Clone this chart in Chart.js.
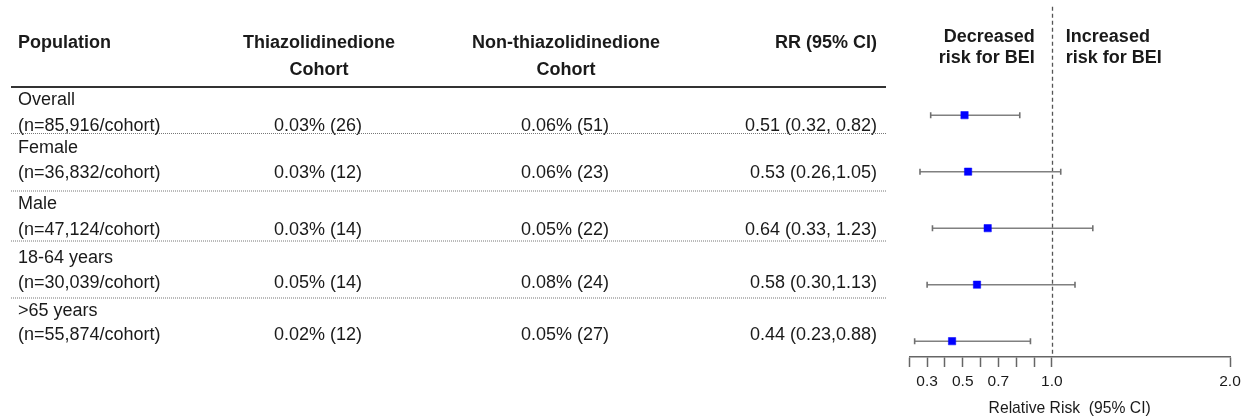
<!DOCTYPE html>
<html>
<head>
<meta charset="utf-8">
<script src="https://cdn.jsdelivr.net/npm/chart.js@4.4.1/dist/chart.umd.min.js"></script>
<style>
  html, body { margin: 0; padding: 0; background: #ffffff; }
  #wrap { width: 1250px; height: 417px; position: relative; }
</style>
</head>
<body>
<div id="wrap"><canvas id="c" width="1250" height="417"></canvas></div>
<script>
// ---------------- data ----------------
const populations = ['Overall', 'Female', 'Male', '18-64 years', '>65 years'];
const cohortSizes = ['(n=85,916/cohort)', '(n=36,832/cohort)', '(n=47,124/cohort)', '(n=30,039/cohort)', '(n=55,874/cohort)'];
const tzdRates = ['0.03% (26)', '0.03% (12)', '0.03% (14)', '0.05% (14)', '0.02% (12)'];
const nonTzdRates = ['0.06% (51)', '0.06% (23)', '0.05% (22)', '0.08% (24)', '0.05% (27)'];
const rrLabels = ['0.51 (0.32, 0.82)', '0.53 (0.26,1.05)', '0.64 (0.33, 1.23)', '0.58 (0.30,1.13)', '0.44 (0.23,0.88)'];
const rrValues = [0.51, 0.53, 0.64, 0.58, 0.44];
const ciLower = [0.32, 0.26, 0.33, 0.30, 0.23];
const ciUpper = [0.82, 1.05, 1.23, 1.13, 0.88];
const xTickValues = [0.2, 0.3, 0.4, 0.5, 0.6, 0.7, 0.8, 0.9, 1.0, 2.0];
const xTickLabels = ['', '0.3', '', '0.5', '', '0.7', '', '', '1.0', '2.0'];
const headerCols = [['Population'], ['Thiazolidinedione', 'Cohort'], ['Non-thiazolidinedione', 'Cohort'], ['RR (95% CI)']];
const decreasedLabel = ['Decreased', 'risk for BEI'];
const increasedLabel = ['Increased', 'risk for BEI'];
const axisTitle = 'Relative Risk  (95% CI)';

// ---------------- layout (positions / styles) ----------------
const FONT = '"Liberation Sans", Arial, Helvetica, sans-serif';
const TEXT = '#1a1a1a';
const colX = { pop: 18, tzd: 318, non: 565, rr: 877 };
const headY = [43, 70];
const labelY = [100.5, 148.5, 204.5, 258, 311];
const valueY = [126, 173.5, 230.5, 283, 335];
const sepY = [133, 190.5, 240.5, 297.5];
const ruleY = 87;
const tableLeft = 11, tableRight = 886;

const tablePlugin = {
  id: 'tablePlugin',
  beforeDatasetsDraw(chart) {
    const ctx = chart.ctx, xs = chart.scales.x, area = chart.chartArea;
    const x1 = Math.round(xs.getPixelForValue(1.0)) + 0.5;
    ctx.save();
    ctx.strokeStyle = '#555555';
    ctx.lineWidth = 1.3;
    ctx.setLineDash([4, 3]);
    ctx.beginPath();
    ctx.moveTo(x1, area.top);
    ctx.lineTo(x1, area.bottom);
    ctx.stroke();
    ctx.restore();
  },
  afterDraw(chart) {
    const ctx = chart.ctx, xs = chart.scales.x;
    ctx.save();
    ctx.fillStyle = TEXT;
    ctx.textBaseline = 'middle';
    // headers
    ctx.font = 'bold 18px ' + FONT;
    ctx.textAlign = 'left';
    ctx.fillText(headerCols[0][0], colX.pop, headY[0]);
    ctx.textAlign = 'center';
    headerCols[1].forEach((t, i) => ctx.fillText(t, colX.tzd + 1, headY[i]));
    headerCols[2].forEach((t, i) => ctx.fillText(t, colX.non + 1, headY[i]));
    ctx.textAlign = 'right';
    ctx.fillText(headerCols[3][0], colX.rr, headY[0]);
    // forest headers
    const x1 = xs.getPixelForValue(1.0);
    ctx.textAlign = 'right';
    decreasedLabel.forEach((t, i) => ctx.fillText(t, x1 - 17, 36.7 + i * 21.6));
    ctx.textAlign = 'left';
    increasedLabel.forEach((t, i) => ctx.fillText(t, x1 + 14, 36.7 + i * 21.6));
    // header rule
    ctx.strokeStyle = '#333333';
    ctx.lineWidth = 2;
    ctx.beginPath();
    ctx.moveTo(tableLeft, ruleY);
    ctx.lineTo(tableRight, ruleY);
    ctx.stroke();
    // rows
    ctx.font = '18px ' + FONT;
    populations.forEach((p, i) => {
      ctx.textAlign = 'left';
      ctx.fillText(p, colX.pop, labelY[i]);
      ctx.fillText(cohortSizes[i], colX.pop, valueY[i]);
      ctx.textAlign = 'center';
      ctx.fillText(tzdRates[i], colX.tzd, valueY[i]);
      ctx.fillText(nonTzdRates[i], colX.non, valueY[i]);
      ctx.textAlign = 'right';
      ctx.fillText(rrLabels[i], colX.rr, valueY[i]);
    });
    // dotted separators
    ctx.strokeStyle = '#777777';
    ctx.lineWidth = 1;
    ctx.setLineDash([1, 1]);
    sepY.forEach(y => {
      ctx.beginPath();
      ctx.moveTo(tableLeft, y + 0.5);
      ctx.lineTo(tableRight, y + 0.5);
      ctx.stroke();
    });
    ctx.restore();
  }
};

const ciDatasets = populations.map((p, i) => ({
  label: p + ' CI',
  type: 'scatter',
  showLine: true,
  data: [{ x: ciLower[i], y: i }, { x: ciUpper[i], y: i }],
  borderColor: '#808080',
  borderWidth: 1.6,
  pointStyle: 'line',
  rotation: 90,
  pointRadius: 3,
  pointBorderWidth: 1.6,
  pointBorderColor: '#707070',
  order: 2
}));

const pointDataset = {
  label: 'RR',
  type: 'scatter',
  data: rrValues.map((v, i) => ({ x: v, y: i })),
  pointStyle: 'rect',
  pointRadius: 5.2,
  pointBackgroundColor: '#0000ff',
  pointBorderColor: '#0000ff',
  pointBorderWidth: 0.5,
  order: 0
};

new Chart(document.getElementById('c'), {
  type: 'scatter',
  data: { datasets: [pointDataset, ...ciDatasets] },
  options: {
    responsive: false,
    animation: false,
    devicePixelRatio: 1,
    layout: { padding: { left: 909.3, right: 20, top: 6.7, bottom: 0 } },
    plugins: { legend: { display: false }, tooltip: { enabled: false } },
    scales: {
      x: {
        type: 'linear',
        min: 0.2,
        max: 2.0,
        afterBuildTicks: s => { s.ticks = xTickValues.map(v => ({ value: v })); },
        afterFit: s => { s.height = 60; },
        ticks: {
          autoSkip: false,
          maxRotation: 0,
          padding: 5,
          color: TEXT,
          font: { family: FONT, size: 15.5 },
          callback: (v, idx) => xTickLabels[idx]
        },
        grid: { drawOnChartArea: false, drawTicks: true, tickLength: 10, tickColor: '#666666', tickWidth: 1.5 },
        border: { display: true, color: '#666666', width: 1.5 },
        title: { display: true, text: axisTitle, color: TEXT, font: { family: FONT, size: 15.7, lineHeight: 1 }, padding: { top: 0, bottom: 0 } }
      },
      y: {
        type: 'linear',
        display: false,
        reverse: true,
        min: -1.92,
        max: 4.28
      }
    }
  },
  plugins: [tablePlugin]
});
</script>
</body>
</html>
